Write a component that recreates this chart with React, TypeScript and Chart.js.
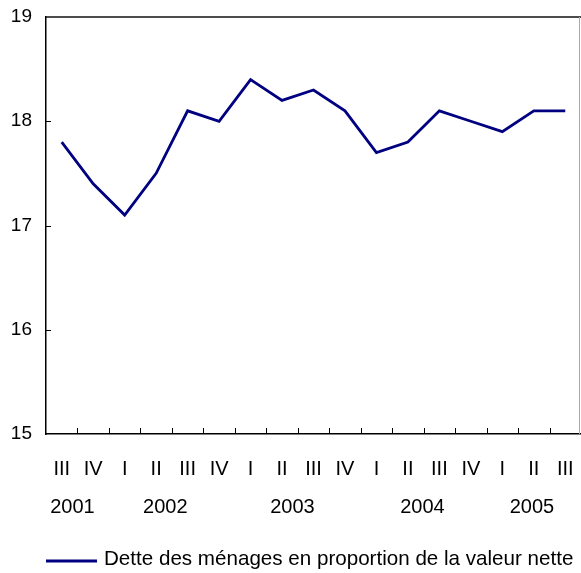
import React, { useEffect, useRef } from "react";
import { Chart, registerables } from "chart.js";

Chart.register(...registerables);

const quarters = ["III", "IV", "I", "II", "III", "IV", "I", "II", "III", "IV", "I", "II", "III", "IV", "I", "II", "III"];
const debtValues = [17.8, 17.4, 17.1, 17.5, 18.1, 18.0, 18.4, 18.2, 18.3, 18.1, 17.7, 17.8, 18.1, 18.0, 17.9, 18.1, 18.1];
const years = ["2001", "2002", "2003", "2004", "2005"];
const yearPositions = [0.34, 3.29, 7.33, 11.46, 14.94];
const yTicks = [15, 16, 17, 18, 19];
const seriesLabel = "Dette des ménages en proportion de la valeur nette";

const FONT = "'Liberation Sans', Arial, sans-serif";
const LINE_COLOR = "#000080";

const decorPlugin = {
  id: "decor",
  afterDraw(chart: any) {
    const ctx = chart.ctx;
    const area = chart.chartArea;
    const xs = chart.scales.x;
    const ys = chart.scales.y;
    ctx.save();
    // top and right frame
    ctx.strokeStyle = "#111";
    ctx.lineWidth = 1.5;
    ctx.beginPath();
    ctx.moveTo(area.left, area.top);
    ctx.lineTo(area.right, area.top);
    ctx.stroke();
    ctx.strokeStyle = "#aaa";
    ctx.lineWidth = 1;
    ctx.beginPath();
    ctx.moveTo(area.right - 1.5, area.top);
    ctx.lineTo(area.right - 1.5, area.bottom);
    ctx.stroke();
    // inward x ticks at category boundaries
    ctx.strokeStyle = "#000";
    ctx.lineWidth = 1;
    for (let i = 1; i < quarters.length; i++) {
      const px = Math.round(xs.getPixelForValue(i - 0.5)) + 0.5;
      ctx.beginPath();
      ctx.moveTo(px, area.bottom);
      ctx.lineTo(px, area.bottom - 6);
      ctx.stroke();
    }
    // inward y ticks
    for (const v of yTicks) {
      if (v === yTicks[0] || v === yTicks[yTicks.length - 1]) continue;
      const py = Math.round(ys.getPixelForValue(v)) + 0.5;
      ctx.beginPath();
      ctx.moveTo(area.left, py);
      ctx.lineTo(area.left + 5, py);
      ctx.stroke();
    }
    // year labels
    ctx.fillStyle = "#000";
    ctx.font = `20px ${FONT}`;
    ctx.textAlign = "center";
    ctx.textBaseline = "middle";
    years.forEach((y, i) => {
      ctx.fillText(y, xs.getPixelForValue(yearPositions[i]), 507);
    });
    // legend
    ctx.strokeStyle = LINE_COLOR;
    ctx.lineWidth = 3;
    ctx.beginPath();
    ctx.moveTo(46, 561);
    ctx.lineTo(97, 561);
    ctx.stroke();
    ctx.font = `20.6px ${FONT}`;
    ctx.textAlign = "left";
    ctx.fillText(chart.data.datasets[0].label, 104, 559);
    ctx.restore();
  },
};

export default function App() {
  const ref = useRef<HTMLCanvasElement>(null);
  useEffect(() => {
    if (!ref.current) return;
    const chart = new Chart(ref.current, {
      type: "line",
      data: {
        labels: quarters,
        datasets: [
          {
            label: seriesLabel,
            data: debtValues,
            borderColor: LINE_COLOR,
            backgroundColor: LINE_COLOR,
            borderWidth: 2.8,
            pointRadius: 0,
            tension: 0,
          },
        ],
      },
      options: {
        responsive: false,
        animation: false,
        events: [],
        layout: { padding: { top: 17, right: 0, left: 0, bottom: 0 } },
        plugins: {
          legend: { display: false },
          tooltip: { enabled: false },
          title: { display: false },
        },
        scales: {
          x: {
            type: "category",
            offset: true,
            grid: { display: true, drawOnChartArea: false, drawTicks: false, offset: true, color: "transparent" },
            border: { display: true, color: "#000", width: 1.5 },
            ticks: {
              color: "#000",
              font: { family: FONT, size: 20 },
              padding: 23,
              maxRotation: 0,
              autoSkip: false,
            },
            afterFit: (scale: any) => {
              scale.height = 139;
              scale.paddingLeft = 0;
              scale.paddingRight = 0;
            },
          },
          y: {
            min: 15,
            max: 19,
            grid: { display: true, drawOnChartArea: false, drawTicks: false, color: "transparent" },
            border: { display: true, color: "#000", width: 1.5 },
            ticks: {
              stepSize: 1,
              color: "#000",
              font: { family: FONT, size: 19 },
              padding: 14,
            },
            afterFit: (scale: any) => {
              scale.width = 46;
              scale.paddingTop = 0;
              scale.paddingBottom = 0;
            },
          },
        },
      },
      plugins: [decorPlugin],
    });
    return () => chart.destroy();
  }, []);
  return (
    <div style={{ position: "absolute", left: 0, top: 0, width: 581, height: 573, background: "#fff" }}>
      <canvas ref={ref} width={581} height={573} />
    </div>
  );
}
